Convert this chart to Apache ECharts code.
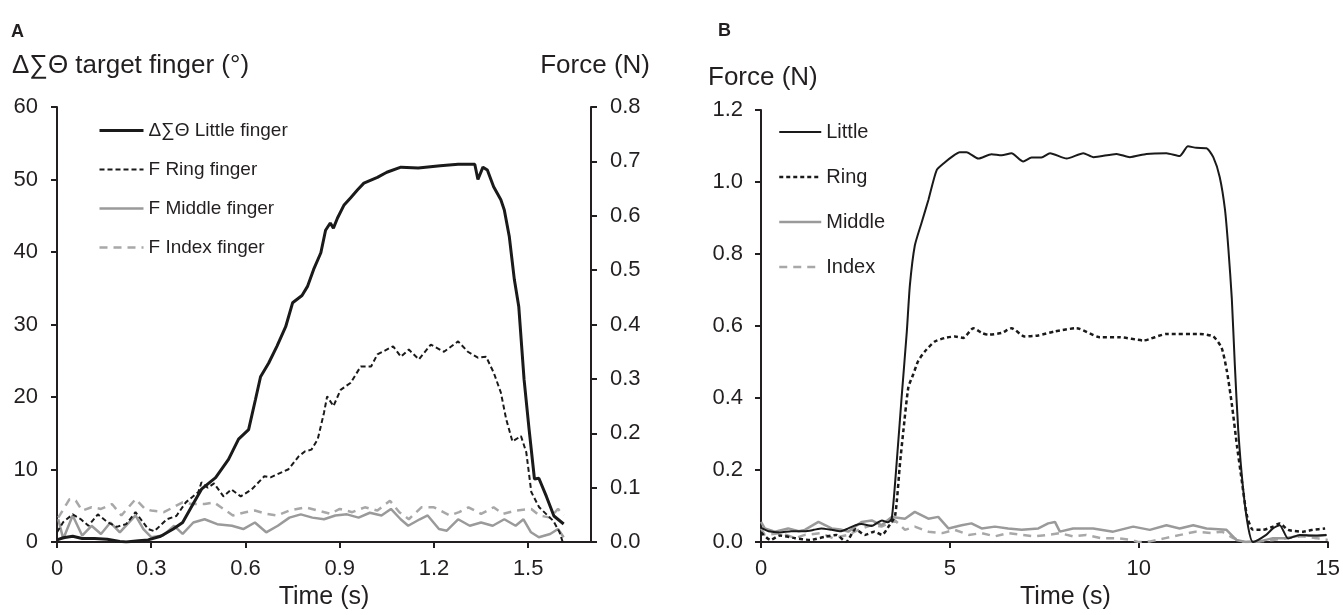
<!DOCTYPE html>
<html>
<head>
<meta charset="utf-8">
<script src="https://cdn.jsdelivr.net/npm/echarts@6/dist/echarts.min.js"></script>
<style>
html,body{margin:0;padding:0;background:#fff;}
#chart{width:1343px;height:615px;}
</style>
</head>
<body>
<div id="chart"></div>
<script>
// ---------- Panel A data: [time (s), value] ----------
const littleA = [[0,0.3],[0.02,0.6],[0.05,0.8],[0.08,0.5],[0.12,0.5],[0.16,0.4],[0.2,0.1],[0.22,0],[0.26,0.2],[0.29,0.3],[0.33,0.8],[0.37,1.8],[0.4,2.7],[0.43,5],[0.46,7.3],[0.505,8.9],[0.546,11.4],[0.578,14.2],[0.61,15.5],[0.632,19.7],[0.648,22.8],[0.674,24.7],[0.7,27],[0.728,29.7],[0.75,33],[0.78,34],[0.798,35.3],[0.817,37.6],[0.84,39.9],[0.855,43],[0.87,44],[0.88,43.3],[0.893,44.7],[0.914,46.5],[0.935,47.5],[0.957,48.6],[0.977,49.5],[1.02,50.3],[1.05,51],[1.095,51.7],[1.15,51.6],[1.22,51.9],[1.277,52.1],[1.33,52.1],[1.34,50],[1.356,51.7],[1.37,51.3],[1.39,49],[1.413,47.2],[1.424,45.8],[1.44,42.1],[1.456,36.2],[1.47,32.5],[1.487,22.4],[1.503,15.5],[1.52,8.7],[1.534,8.8],[1.558,6.3],[1.582,3.6],[1.613,2.5]];
const ringA = [[0,0.018],[0.02,0.037],[0.05,0.051],[0.076,0.042],[0.1,0.03],[0.13,0.051],[0.16,0.037],[0.19,0.028],[0.22,0.033],[0.25,0.055],[0.29,0.024],[0.31,0.02],[0.35,0.042],[0.38,0.048],[0.41,0.073],[0.45,0.092],[0.46,0.11],[0.48,0.1],[0.5,0.108],[0.53,0.084],[0.555,0.097],[0.585,0.084],[0.62,0.097],[0.66,0.121],[0.68,0.119],[0.737,0.134],[0.77,0.158],[0.79,0.167],[0.81,0.17],[0.83,0.189],[0.85,0.238],[0.86,0.268],[0.88,0.25],[0.903,0.28],[0.935,0.293],[0.967,0.323],[1.0,0.323],[1.02,0.345],[1.07,0.36],[1.095,0.341],[1.12,0.354],[1.152,0.336],[1.19,0.363],[1.232,0.35],[1.277,0.369],[1.308,0.35],[1.34,0.339],[1.366,0.341],[1.39,0.312],[1.413,0.275],[1.43,0.226],[1.45,0.185],[1.477,0.195],[1.494,0.165],[1.51,0.092],[1.535,0.064],[1.58,0.039],[1.6,0.018],[1.61,0]];
const middleA = [[0.004,0.042],[0.02,0.006],[0.05,0.049],[0.08,0.012],[0.11,0.03],[0.14,0.015],[0.17,0.036],[0.2,0.018],[0.25,0.049],[0.275,0.024],[0.3,0.009],[0.337,0.012],[0.373,0.03],[0.4,0.015],[0.434,0.036],[0.47,0.042],[0.51,0.033],[0.557,0.03],[0.593,0.024],[0.63,0.036],[0.666,0.018],[0.703,0.03],[0.74,0.045],[0.776,0.051],[0.813,0.045],[0.85,0.042],[0.886,0.049],[0.923,0.051],[0.96,0.045],[0.996,0.054],[1.033,0.049],[1.063,0.061],[1.094,0.042],[1.118,0.03],[1.155,0.042],[1.18,0.049],[1.216,0.024],[1.241,0.021],[1.277,0.042],[1.314,0.03],[1.35,0.036],[1.387,0.03],[1.424,0.042],[1.46,0.03],[1.485,0.042],[1.509,0.018],[1.534,0.009],[1.57,0.015],[1.595,0.024],[1.613,0.009]];
const indexA = [[0.004,0.045],[0.02,0.06],[0.04,0.079],[0.06,0.076],[0.08,0.058],[0.11,0.064],[0.14,0.061],[0.175,0.07],[0.205,0.049],[0.25,0.079],[0.28,0.061],[0.3,0.058],[0.34,0.055],[0.37,0.064],[0.4,0.073],[0.43,0.07],[0.47,0.07],[0.5,0.073],[0.53,0.061],[0.56,0.049],[0.6,0.055],[0.63,0.058],[0.666,0.052],[0.7,0.049],[0.74,0.058],[0.79,0.064],[0.83,0.058],[0.87,0.052],[0.9,0.061],[0.94,0.055],[0.98,0.064],[1.02,0.058],[1.06,0.076],[1.09,0.055],[1.12,0.042],[1.16,0.064],[1.2,0.064],[1.25,0.049],[1.28,0.055],[1.31,0.064],[1.35,0.052],[1.39,0.064],[1.42,0.052],[1.46,0.058],[1.51,0.061],[1.535,0.049],[1.57,0.045],[1.595,0.061],[1.613,0.049]];

// ---------- Panel B data: [time (s), force (N)] ----------
const littleB = [[0,0.04],[0.2,0.03],[0.5,0.027],[0.8,0.03],[1.16,0.03],[1.4,0.034],[1.6,0.038],[1.87,0.034],[2.1,0.03],[2.31,0.038],[2.5,0.047],[2.66,0.05],[2.93,0.045],[3.2,0.06],[3.35,0.055],[3.46,0.065],[3.59,0.22],[3.72,0.4],[3.86,0.586],[3.94,0.713],[4.07,0.823],[4.25,0.887],[4.43,0.95],[4.65,1.033],[4.87,1.055],[5.05,1.07],[5.26,1.083],[5.44,1.083],[5.75,1.065],[6.1,1.077],[6.37,1.074],[6.63,1.08],[6.94,1.057],[7.16,1.068],[7.42,1.068],[7.65,1.08],[8.09,1.065],[8.53,1.08],[8.8,1.069],[9.41,1.078],[9.76,1.069],[10.2,1.078],[10.73,1.08],[11.08,1.072],[11.3,1.099],[11.52,1.095],[11.79,1.094],[11.97,1.069],[12.14,1.014],[12.28,0.923],[12.37,0.814],[12.46,0.677],[12.54,0.493],[12.63,0.312],[12.76,0.148],[12.9,0.038],[13.02,0],[13.37,0.02],[13.55,0.038],[13.73,0.047],[13.95,0.01],[14.26,0.02],[14.6,0.018],[14.97,0.02]];
const ringB = [[0,0.027],[0.25,0.006],[0.5,0.018],[0.9,0.011],[1.3,0.006],[1.7,0.015],[2.0,0.02],[2.25,0],[2.5,0.036],[2.75,0.02],[3.0,0.029],[3.2,0.02],[3.4,0.047],[3.55,0.074],[3.68,0.22],[3.77,0.311],[3.9,0.43],[4.03,0.466],[4.16,0.503],[4.34,0.53],[4.6,0.557],[4.87,0.567],[5.13,0.571],[5.35,0.567],[5.62,0.594],[5.84,0.581],[6.01,0.576],[6.37,0.581],[6.63,0.594],[6.98,0.571],[7.34,0.574],[7.78,0.585],[8.35,0.594],[8.97,0.569],[9.5,0.569],[10.12,0.56],[10.73,0.578],[11.61,0.578],[11.97,0.571],[12.19,0.54],[12.33,0.475],[12.46,0.384],[12.6,0.265],[12.72,0.174],[12.86,0.074],[13.02,0.034],[13.28,0.034],[13.55,0.043],[13.73,0.052],[13.95,0.034],[14.35,0.029],[14.6,0.034],[14.93,0.038]];
const middleB = [[0,0.056],[0.1,0.038],[0.37,0.029],[0.72,0.038],[1.0,0.03],[1.16,0.034],[1.52,0.056],[1.87,0.038],[2.1,0.035],[2.31,0.029],[2.66,0.056],[2.93,0.06],[3.19,0.047],[3.46,0.07],[3.81,0.065],[4.07,0.084],[4.43,0.065],[4.69,0.07],[4.96,0.038],[5.31,0.047],[5.57,0.052],[5.84,0.038],[6.19,0.043],[6.54,0.038],[6.9,0.034],[7.34,0.038],[7.6,0.052],[7.78,0.056],[7.91,0.029],[8.26,0.038],[8.79,0.038],[9.32,0.029],[9.85,0.043],[10.29,0.034],[10.73,0.047],[11.08,0.038],[11.44,0.047],[11.79,0.038],[12.32,0.034],[12.58,0.006],[12.85,0],[13.2,0.002],[13.55,0.011],[13.9,0.011],[14.35,0.02],[14.7,0.016],[14.96,0.02]];
const indexB = [[0,0.038],[0.1,0.02],[0.55,0.025],[0.9,0.011],[1.16,0.02],[1.6,0.025],[1.9,0.011],[2.31,0.02],[2.66,0.038],[2.93,0.047],[3.19,0.043],[3.55,0.06],[3.81,0.034],[4.07,0.043],[4.43,0.029],[4.8,0.025],[5.13,0.034],[5.5,0.02],[5.84,0.025],[6.19,0.016],[6.54,0.025],[6.9,0.02],[7.25,0.016],[7.6,0.02],[7.9,0.025],[8.26,0.016],[8.6,0.02],[9.0,0.011],[9.4,0.011],[9.8,0.006],[10.0,0],[10.3,0.002],[10.7,0.011],[11.1,0.02],[11.5,0.029],[11.9,0.025],[12.2,0.029],[12.5,0.011],[12.8,0],[13.2,0.002],[13.55,0.006],[13.9,0.011],[14.3,0.016],[14.7,0.011],[15,0.006]];

// ---------- Tick labels ----------
const xTicksA = [0, 0.3, 0.6, 0.9, 1.2, 1.5];
const yTicksALeft = [0, 10, 20, 30, 40, 50, 60];
const yTicksARight = [0, 0.1, 0.2, 0.3, 0.4, 0.5, 0.6, 0.7, 0.8];
const xTicksB = [0, 5, 10, 15];
const yTicksB = [0, 0.2, 0.4, 0.6, 0.8, 1.0, 1.2];

const namesA = ['\u0394\u2211\u0398 Little finger', 'F Ring finger', 'F Middle finger', 'F Index finger'];
const namesB = ['Little', 'Ring', 'Middle', 'Index'];

const FONT = "'Liberation Sans', Arial, Helvetica, sans-serif";
const INK = '#231f20';
const BLACK = '#1a1a1a';
const GREY = '#9a9a9a';
const GREY2 = '#a8a8a8';

// line styles per series (also used by the legend entries)
const stA = [
  { color: BLACK, width: 3, type: 'solid' },
  { color: BLACK, width: 2, type: [5, 3] },
  { color: GREY, width: 2.5, type: 'solid' },
  { color: GREY2, width: 2.5, type: [8, 6] }
];
const stB = [
  { color: BLACK, width: 2, type: 'solid' },
  { color: BLACK, width: 2.5, type: [4, 3] },
  { color: GREY, width: 2.5, type: 'solid' },
  { color: GREY2, width: 2.5, type: [8, 6] }
];

const axisLineStyle = { show: true, onZero: false, lineStyle: { color: INK, width: 2 } };
const tickStyle = { show: true, inside: false, length: 6, lineStyle: { color: INK, width: 2 } };
const lblStyle = { color: INK, fontSize: 22, fontFamily: FONT };

const chart = echarts.init(document.getElementById('chart'), null, { renderer: 'canvas' });

function fmt1(v) { return Number(v).toFixed(1); }

function legendData(names, styles) {
  return names.map((n, i) => ({ name: n, lineStyle: Object.assign({}, styles[i]), itemStyle: { opacity: 0 } }));
}

function lineSeries(name, data, xi, yi, st, z, smooth) {
  return {
    name: name, type: 'line', xAxisIndex: xi, yAxisIndex: yi, data: data,
    showSymbol: false, symbol: 'none', smooth: smooth || false,
    lineStyle: Object.assign({}, st), itemStyle: { color: st.color }, z: z
  };
}

const option = {
  backgroundColor: '#ffffff',
  animation: false,
  grid: [
    { left: 57, right: 752, top: 107, bottom: 72, containLabel: false },
    { left: 761, right: 15, top: 110, bottom: 67, containLabel: false }
  ],
  xAxis: [
    {
      type: 'value', gridIndex: 0, min: 0, max: 1.7, interval: 0.3,
      axisLine: axisLineStyle,
      axisTick: Object.assign({}, tickStyle, { customValues: xTicksA }),
      axisLabel: Object.assign({}, lblStyle, { margin: 16, customValues: xTicksA,
        formatter: v => (v === 0 ? '0' : fmt1(v)) }),
      splitLine: { show: false },
      name: 'Time (s)', nameLocation: 'middle', nameGap: 40,
      nameTextStyle: { color: INK, fontSize: 25, fontFamily: FONT }
    },
    {
      type: 'value', gridIndex: 1, min: 0, max: 15, interval: 5,
      axisLine: axisLineStyle,
      axisTick: Object.assign({}, tickStyle, { customValues: xTicksB }),
      axisLabel: Object.assign({}, lblStyle, { margin: 16, customValues: xTicksB,
        formatter: v => String(v) }),
      splitLine: { show: false },
      name: 'Time (s)', nameLocation: 'middle', nameGap: 37,
      nameTextStyle: { color: INK, fontSize: 25, fontFamily: FONT, padding: [0, 0, 0, 42] }
    }
  ],
  yAxis: [
    {
      type: 'value', gridIndex: 0, min: 0, max: 60, interval: 10, position: 'left',
      axisLine: axisLineStyle,
      axisTick: Object.assign({}, tickStyle, { customValues: yTicksALeft }),
      axisLabel: Object.assign({}, lblStyle, { margin: 19, customValues: yTicksALeft,
        formatter: v => String(v) }),
      splitLine: { show: false }
    },
    {
      type: 'value', gridIndex: 0, min: 0, max: 0.8, interval: 0.1, position: 'right',
      axisLine: axisLineStyle,
      axisTick: Object.assign({}, tickStyle, { customValues: yTicksARight }),
      axisLabel: Object.assign({}, lblStyle, { margin: 19, customValues: yTicksARight,
        formatter: fmt1 }),
      splitLine: { show: false }
    },
    {
      type: 'value', gridIndex: 1, min: 0, max: 1.2, interval: 0.2, position: 'left',
      axisLine: axisLineStyle,
      axisTick: Object.assign({}, tickStyle, { customValues: yTicksB }),
      axisLabel: Object.assign({}, lblStyle, { margin: 18, customValues: yTicksB,
        formatter: fmt1 }),
      splitLine: { show: false }
    }
  ],
  legend: [
    {
      data: legendData(namesA, stA), orient: 'vertical', left: 98, top: 121, padding: 0,
      itemWidth: 44, itemHeight: 20, itemGap: 20, selectedMode: false,
      itemStyle: { opacity: 0 },
      textStyle: { color: INK, fontSize: 19, fontFamily: FONT }
    },
    {
      data: legendData(namesB, stB), orient: 'vertical', left: 778, top: 122, padding: 0,
      itemWidth: 42, itemHeight: 20, itemGap: 25, selectedMode: false,
      itemStyle: { opacity: 0 },
      textStyle: { color: INK, fontSize: 20, fontFamily: FONT }
    }
  ],
  graphic: [
    { type: 'text', left: 11, top: 23, style: { text: 'A', fill: INK, font: "bold 18px " + FONT } },
    { type: 'text', left: 718, top: 22, style: { text: 'B', fill: INK, font: "bold 18px " + FONT } },
    { type: 'text', left: 12, top: 53, style: { text: '\u0394\u2211\u0398 target finger (\u00b0)', fill: INK, font: "26px " + FONT } },
    { type: 'text', right: 693, top: 53, style: { text: 'Force (N)', fill: INK, font: "26px " + FONT } },
    { type: 'text', left: 708, top: 65, style: { text: 'Force (N)', fill: INK, font: "26px " + FONT } }
  ],
  series: [
    lineSeries(namesA[0], littleA, 0, 0, stA[0], 5),
    lineSeries(namesA[1], ringA, 0, 1, stA[1], 4),
    lineSeries(namesA[2], middleA, 0, 1, stA[2], 3),
    lineSeries(namesA[3], indexA, 0, 1, stA[3], 2),
    lineSeries(namesB[0], littleB, 1, 2, stB[0], 5, 0.2),
    lineSeries(namesB[1], ringB, 1, 2, stB[1], 4, 0.2),
    lineSeries(namesB[2], middleB, 1, 2, stB[2], 3),
    lineSeries(namesB[3], indexB, 1, 2, stB[3], 2)
  ]
};

chart.setOption(option);
</script>
</body>
</html>
